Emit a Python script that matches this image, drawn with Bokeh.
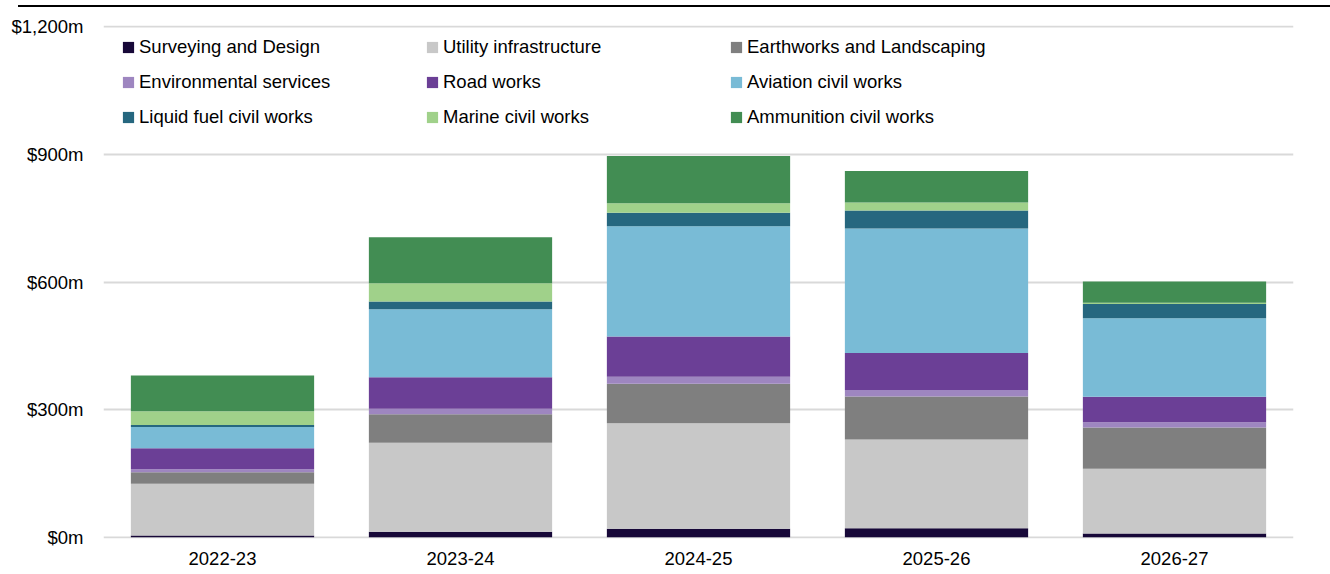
from bokeh.plotting import figure
from bokeh.models import ColumnDataSource, Range1d, FactorRange, FixedTicker, Div
from bokeh.layouts import column
from bokeh.embed import file_html
from bokeh.resources import INLINE

# ---- data (values in $m) ----
years = ["2022-23", "2023-24", "2024-25", "2025-26", "2026-27"]
surveying = [4, 13, 20, 21, 9]
utility = [122, 209, 248, 209, 152]
earthworks = [27, 67, 93, 101, 97]
environmental = [7, 13, 16, 15, 12]
road = [49, 74, 95, 87, 60]
aviation = [50, 160, 259, 293, 185]
liquid_fuel = [5, 18, 32, 42, 33]
marine = [32, 43, 22, 19, 3]
ammunition = [84, 108, 111, 74, 50]

series_names = ["Surveying and Design", "Utility infrastructure", "Earthworks and Landscaping",
                "Environmental services", "Road works", "Aviation civil works",
                "Liquid fuel civil works", "Marine civil works", "Ammunition civil works"]
series_keys = ["surveying", "utility", "earthworks", "environmental", "road",
               "aviation", "liquid_fuel", "marine", "ammunition"]
colors = ["#170838", "#c8c8c8", "#7f7f7f", "#9e86c0", "#6b3f96",
          "#79bbd6", "#26677f", "#a0d18a", "#428d53"]

y_ticks = [0, 300, 600, 900, 1200]
y_tick_labels = ["$0m", "$300m", "$600m", "$900m", "$1,200m"]

source = ColumnDataSource(dict(
    years=years, surveying=surveying, utility=utility, earthworks=earthworks,
    environmental=environmental, road=road, aviation=aviation,
    liquid_fuel=liquid_fuel, marine=marine, ammunition=ammunition))

FONT = "Liberation Sans"
FS = "18.5px"

p = figure(width=1314, height=565, output_backend="svg", toolbar_location=None,
           x_range=FactorRange(*years), y_range=Range1d(-3, 1203),
           min_border_left=103, min_border_right=21, min_border_top=18, min_border_bottom=34,
           outline_line_color=None)

p.vbar_stack(series_keys, x="years", width=0.77, color=colors, line_color=None,
             source=source, legend_label=series_names)

# axes
p.yaxis.ticker = FixedTicker(ticks=y_ticks)
p.yaxis.major_label_overrides = {t: l for t, l in zip(y_ticks, y_tick_labels)}
for ax in (p.xaxis[0], p.yaxis[0]):
    ax.axis_line_color = None
    ax.major_tick_line_color = None
    ax.minor_tick_line_color = None
    ax.major_tick_in = 0
    ax.major_tick_out = 0
    ax.major_label_text_font = FONT
    ax.major_label_text_font_size = FS
    ax.major_label_text_color = "#000000"
p.yaxis.major_label_standoff = 20
p.xaxis.major_label_standoff = 13

# grid
p.xgrid.grid_line_color = None
p.ygrid.grid_line_color = "#d9d9d9"
p.ygrid.grid_line_width = 2

# legend
lg = p.legend[0]
lg.orientation = "horizontal"
lg.ncols = 3
lg.location = (18, 410)
lg.margin = 0
lg.padding = 0
lg.border_line_color = None
lg.background_fill_alpha = 0
lg.glyph_width = 14
lg.glyph_height = 14
lg.label_height = 21
lg.label_width = 273
lg.label_standoff = 4
lg.spacing = 13
lg.label_text_font = FONT
lg.label_text_font_size = FS
lg.label_text_color = "#000000"

top_line = Div(width=1312, height=2, margin=(5, 0, 0, 18),
               styles={"background-color": "#000000"})

layout = column(top_line, p, spacing=0)

open("out.html", "w").write(file_html(layout, INLINE))
